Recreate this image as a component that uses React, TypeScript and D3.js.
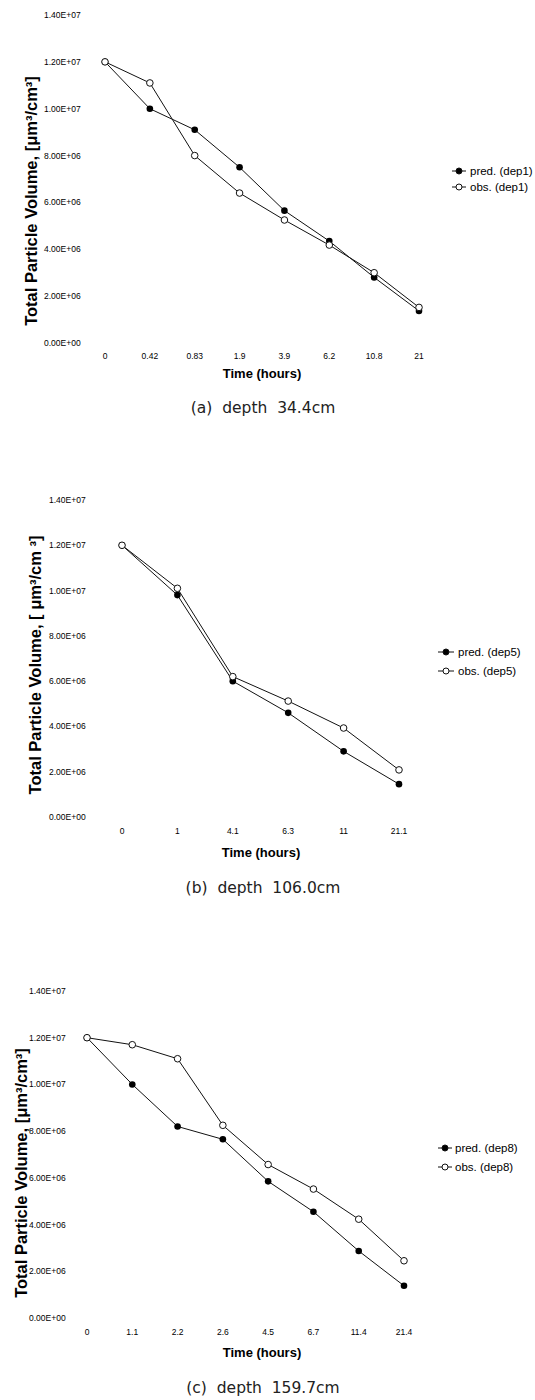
import React from "react";
import * as d3 from "d3";

const yTickValues = [0, 2e6, 4e6, 6e6, 8e6, 1e7, 1.2e7, 1.4e7];
const yTickLabels = ["0.00E+00", "2.00E+06", "4.00E+06", "6.00E+06", "8.00E+06", "1.00E+07", "1.20E+07", "1.40E+07"];

const timesA = ["0", "0.42", "0.83", "1.9", "3.9", "6.2", "10.8", "21"];
const predA = [1.2e7, 1.0e7, 9.1e6, 7.5e6, 5.65e6, 4.35e6, 2.8e6, 1.37e6];
const obsA = [1.2e7, 1.11e7, 8.0e6, 6.4e6, 5.25e6, 4.18e6, 3.0e6, 1.52e6];

const timesB = ["0", "1", "4.1", "6.3", "11", "21.1"];
const predB = [1.2e7, 9.8e6, 6.0e6, 4.6e6, 2.9e6, 1.45e6];
const obsB = [1.2e7, 1.01e7, 6.2e6, 5.12e6, 3.93e6, 2.08e6];

const timesC = ["0", "1.1", "2.2", "2.6", "4.5", "6.7", "11.4", "21.4"];
const predC = [1.2e7, 1.0e7, 8.2e6, 7.65e6, 5.85e6, 4.55e6, 2.87e6, 1.38e6];
const obsC = [1.2e7, 1.17e7, 1.11e7, 8.25e6, 6.57e6, 5.52e6, 4.23e6, 2.45e6];

const TICK_FONT = "'Liberation Sans Narrow', 'Liberation Sans', Arial, sans-serif";
const BOLD_FONT = "'Liberation Sans', Arial, sans-serif";

type PanelCfg = {
  times: string[];
  pred: number[];
  obs: number[];
  xFirst: number;
  xLast: number;
  y0: number;
  yTop: number;
  yLabelX: number;
  xLabelY: number;
  titleX: number;
  titleY: number;
  yTitle: string;
  xTitleX: number;
  xTitleY: number;
  caption: string;
  captionY: number;
  legX: number;
  legY: number;
  legGap: number;
  legLineW: number;
  legTextX: number;
  dep: string;
};

const panels: PanelCfg[] = [
  {
    times: timesA, pred: predA, obs: obsA,
    xFirst: 105, xLast: 419, y0: 343, yTop: 15, yLabelX: 44, xLabelY: 359,
    titleX: 31, titleY: 201, yTitle: "Total Particle Volume, [μm³/cm³]",
    xTitleX: 262, xTitleY: 378, caption: "(a)  depth  34.4cm", captionY: 413,
    legX: 452, legY: 171, legGap: 16, legLineW: 14, legTextX: 470, dep: "dep1",
  },
  {
    times: timesB, pred: predB, obs: obsB,
    xFirst: 122, xLast: 399, y0: 817, yTop: 500, yLabelX: 49, xLabelY: 834,
    titleX: 35, titleY: 665, yTitle: "Total Particle Volume, [ μm³/cm ³]",
    xTitleX: 261, xTitleY: 857, caption: "(b)  depth  106.0cm", captionY: 893,
    legX: 438, legY: 652, legGap: 19, legLineW: 16, legTextX: 458, dep: "dep5",
  },
  {
    times: timesC, pred: predC, obs: obsC,
    xFirst: 87, xLast: 404, y0: 1318, yTop: 991, yLabelX: 29, xLabelY: 1335,
    titleX: 21, titleY: 1173, yTitle: "Total Particle Volume, [μm³/cm³]",
    xTitleX: 262, xTitleY: 1357, caption: "(c)  depth  159.7cm", captionY: 1393,
    legX: 438, legY: 1148, legGap: 19, legLineW: 14, legTextX: 455, dep: "dep8",
  },
];

function Panel({ cfg }: { cfg: PanelCfg }) {
  const x = d3.scalePoint<string>().domain(cfg.times).range([cfg.xFirst, cfg.xLast]);
  const y = d3.scaleLinear().domain([0, 1.4e7]).range([cfg.y0, cfg.yTop]);
  const line = d3
    .line<number>()
    .x((_, i) => x(cfg.times[i]) as number)
    .y((d) => y(d));
  const r = 3.3;
  return (
    <g>
      {yTickValues.map((v, i) => (
        <text key={"yl" + i} x={cfg.yLabelX} y={y(v)} dy="0.35em" fontSize={8.5} fontFamily={TICK_FONT} fill="#000">
          {yTickLabels[i]}
        </text>
      ))}
      {cfg.times.map((t) => (
        <text key={"xl" + t} x={x(t)} y={cfg.xLabelY} textAnchor="middle" fontSize={8.5} fontFamily={TICK_FONT} fill="#000">
          {t}
        </text>
      ))}
      <text
        transform={`translate(${cfg.titleX},${cfg.titleY}) rotate(-90)`}
        textAnchor="middle"
        dy="0.35em"
        fontSize={16.5}
        fontWeight="bold"
        fontFamily={BOLD_FONT}
        fill="#000"
      >
        {cfg.yTitle}
      </text>
      <text x={cfg.xTitleX} y={cfg.xTitleY} textAnchor="middle" fontSize={13} fontWeight="bold" fontFamily={BOLD_FONT} fill="#000">
        Time (hours)
      </text>
      <text x={263} y={cfg.captionY} textAnchor="middle" fontSize={15.5} fontFamily="'DejaVu Sans', sans-serif" fill="#222" style={{ whiteSpace: "pre" }}>
        {cfg.caption}
      </text>
      <path d={line(cfg.obs) || ""} fill="none" stroke="#111" strokeWidth={1} />
      <path d={line(cfg.pred) || ""} fill="none" stroke="#111" strokeWidth={1} />
      {cfg.pred.map((v, i) => (
        <circle key={"p" + i} cx={x(cfg.times[i])} cy={y(v)} r={r} fill="#000" />
      ))}
      {cfg.obs.map((v, i) => (
        <circle key={"o" + i} cx={x(cfg.times[i])} cy={y(v)} r={r} fill="#fff" stroke="#111" strokeWidth={1} />
      ))}
      {[0, 1].map((k) => {
        const ly = cfg.legY + k * cfg.legGap;
        const cx = cfg.legX + cfg.legLineW / 2;
        return (
          <g key={"lg" + k}>
            <line x1={cfg.legX} x2={cfg.legX + cfg.legLineW} y1={ly} y2={ly} stroke="#111" strokeWidth={1} />
            <circle cx={cx} cy={ly} r={3} fill={k === 0 ? "#000" : "#fff"} stroke="#111" strokeWidth={1} />
            <text x={cfg.legTextX} y={ly} dy="0.35em" fontSize={11.5} fontFamily={BOLD_FONT} fill="#000">
              {k === 0 ? `pred. (${cfg.dep})` : `obs. (${cfg.dep})`}
            </text>
          </g>
        );
      })}
    </g>
  );
}

export default function App() {
  return (
    <svg
      width={535}
      height={1400}
      viewBox="0 0 535 1400"
      style={{ position: "absolute", left: 0, top: 0, background: "#fff" }}
    >
      <rect width={535} height={1400} fill="#fff" />
      {panels.map((p, i) => (
        <Panel key={i} cfg={p} />
      ))}
    </svg>
  );
}
